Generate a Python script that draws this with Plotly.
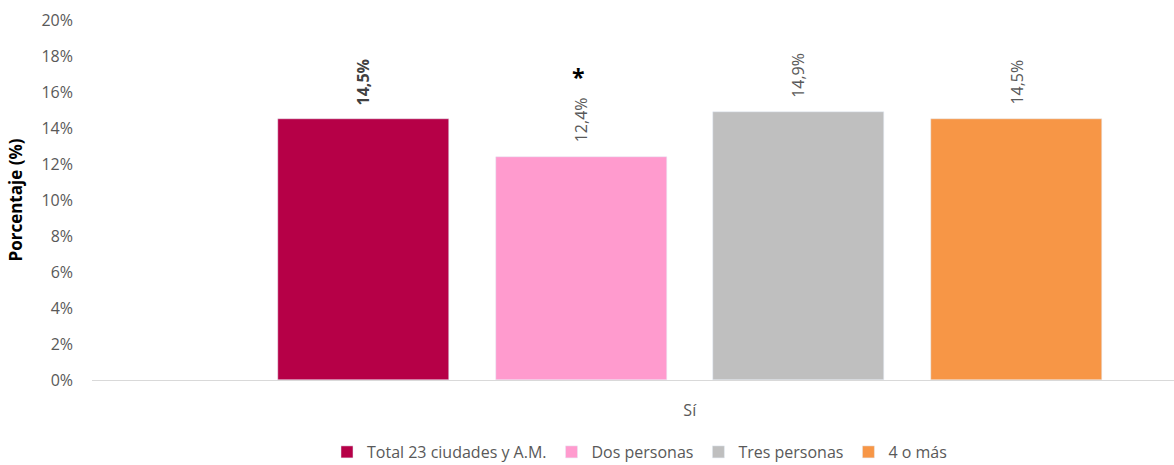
import plotly.graph_objects as go

categories = ["Total 23 ciudades y A.M.", "Dos personas", "Tres personas", "4 o más"]
values = [14.5, 12.4, 14.9, 14.5]
labels = ["14,5%", "12,4%", "14,9%", "14,5%"]
colors = ["#B60047", "#FF9BCE", "#BFBFBF", "#F79646"]
group_label = "Sí"
y_ticks = [0, 2, 4, 6, 8, 10, 12, 14, 16, 18, 20]
y_tick_text = [f"{v}%" for v in y_ticks]

FONT = "Open Sans, Segoe UI, sans-serif"
fig = go.Figure()
for i, (c, v, col) in enumerate(zip(categories, values, colors)):
    fig.add_trace(go.Bar(x=[i], y=[v], name=c, marker_color=col, width=0.786,
                         hoverinfo="y"))
    fig.add_annotation(x=i, y=v, text=f"<b>{labels[i]}</b>" if i == 0 else labels[i],
                       textangle=-90, showarrow=False, yanchor="bottom", yshift=12,
                       font=dict(family=FONT, size=16, color="#404040" if i == 0 else "#595959"))

fig.add_annotation(x=1, y=values[1], text="<b>*</b>", showarrow=False, yanchor="middle",
                   yshift=80, xshift=-3, font=dict(family=FONT, size=23, color="#000000"))

fig.update_layout(
    width=1174, height=465,
    margin=dict(l=92, r=0, t=20, b=85, autoexpand=False),
    plot_bgcolor="white", paper_bgcolor="white",
    font=dict(family=FONT, size=16, color="#595959"),
    showlegend=True,
    legend=dict(orientation="h", x=0.506, xanchor="center", y=-0.2, yanchor="middle",
                font=dict(family=FONT, size=16, color="#595959"), itemwidth=30,
                traceorder="normal"),
    bargap=0,
)
fig.update_xaxes(range=[-1.248, 3.726], tickvals=[1.5], ticktext=[group_label],
                 showgrid=False, zeroline=False, showline=True, linecolor="#D9D9D9",
                 linewidth=1, ticks="", ticklabelstandoff=16,
                 tickfont=dict(size=16, color="#595959"))
fig.update_yaxes(range=[0, 20], tickvals=y_ticks, ticktext=y_tick_text, showgrid=False,
                 zeroline=False, showline=False, ticks="", ticklabelstandoff=18,
                 tickfont=dict(size=16, color="#595959"),
                 title=dict(text="<b>Porcentaje (%)</b>", standoff=14,
                            font=dict(family=FONT, size=17, color="#000000")))

fig.write_html("out.html")
